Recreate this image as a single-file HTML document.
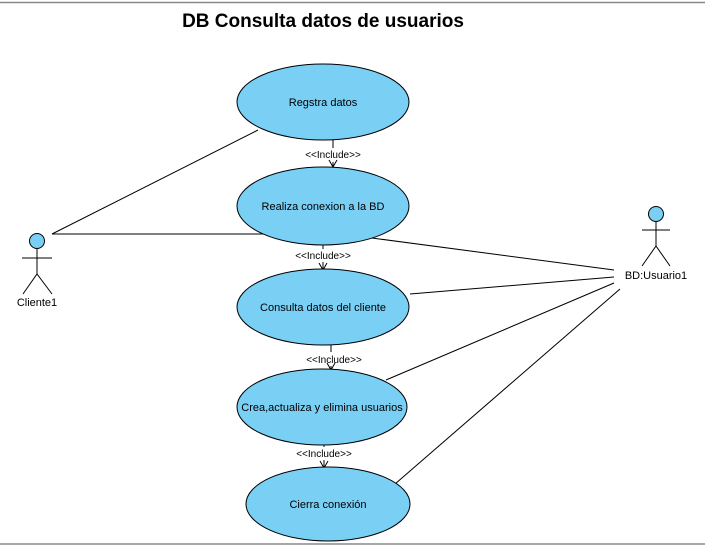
<!DOCTYPE html>
<html><head><style>body{margin:0;background:#fff}svg{display:block}</style></head><body>
<svg width="705" height="546" xmlns="http://www.w3.org/2000/svg" font-family="Liberation Sans, sans-serif">
<rect width="705" height="546" fill="#fff"/>
<line x1="0" y1="2.5" x2="705" y2="2.5" stroke="#888" stroke-width="1.5"/>
<line x1="0" y1="544" x2="705" y2="544" stroke="#888" stroke-width="1.5"/>
<text x="323" y="27" font-size="19" font-weight="bold" text-anchor="middle">DB Consulta datos de usuarios</text>
<g stroke="#000" stroke-width="1" fill="none">
<line x1="52" y1="234" x2="258" y2="130"/>
<line x1="52" y1="234" x2="268" y2="234"/>
<line x1="372" y1="238" x2="614" y2="270"/>
<line x1="410" y1="294" x2="614" y2="277"/>
<line x1="386" y1="380" x2="614" y2="283"/>
<line x1="395" y1="484" x2="620" y2="289"/>
<line x1="333" y1="140" x2="333" y2="148"/><line x1="333" y1="162" x2="333" y2="167"/>
<polyline points="329,160 333,167 337,160"/>
<line x1="323" y1="245" x2="323" y2="249"/><line x1="323" y1="262" x2="323" y2="270"/>
<polyline points="319,263 323,270 327,263"/>
<line x1="331" y1="345" x2="331" y2="352"/><line x1="331" y1="366" x2="331" y2="370"/>
<polyline points="327,363 331,370 335,363"/>
<line x1="324" y1="445" x2="324" y2="447"/><line x1="324" y1="460" x2="324" y2="468"/>
<polyline points="320,461 324,468 328,461"/>
</g>
<g fill="#7acff5" stroke="#000" stroke-width="1">
<ellipse cx="323" cy="102" rx="86" ry="38"/>
<ellipse cx="323" cy="206" rx="86" ry="39"/>
<ellipse cx="323" cy="307" rx="86" ry="38"/>
<ellipse cx="322" cy="407" rx="85" ry="38"/>
<ellipse cx="328" cy="504" rx="82" ry="37"/>
<circle cx="37" cy="241" r="7.5"/>
<circle cx="656" cy="214" r="7.5"/>
</g>
<g stroke="#000" stroke-width="1" fill="none">
<line x1="37" y1="249" x2="37" y2="274"/><line x1="22" y1="258" x2="52" y2="258"/>
<polyline points="23,294 37,274 52,294"/>
<line x1="656" y1="222" x2="656" y2="246"/><line x1="642" y1="230" x2="670" y2="230"/>
<polyline points="642,266 656,246 670,266"/>
</g>
<g font-size="11" text-anchor="middle" fill="#000">
<text x="323" y="106">Regstra datos</text>
<text x="323" y="210">Realiza conexion a la BD</text>
<text x="323" y="311">Consulta datos del cliente</text>
<text x="322" y="411">Crea,actualiza y elimina usuarios</text>
<text x="328" y="508">Cierra conexión</text>
<text x="37" y="306">Cliente1</text>
<text x="656" y="279">BD:Usuario1</text>
</g>
<g font-size="10" text-anchor="middle" fill="#000">
<text x="333" y="158">&lt;&lt;Include&gt;&gt;</text>
<text x="323" y="259">&lt;&lt;Include&gt;&gt;</text>
<text x="334" y="363">&lt;&lt;Include&gt;&gt;</text>
<text x="324" y="457">&lt;&lt;Include&gt;&gt;</text>
</g>
</svg>
</body></html>
